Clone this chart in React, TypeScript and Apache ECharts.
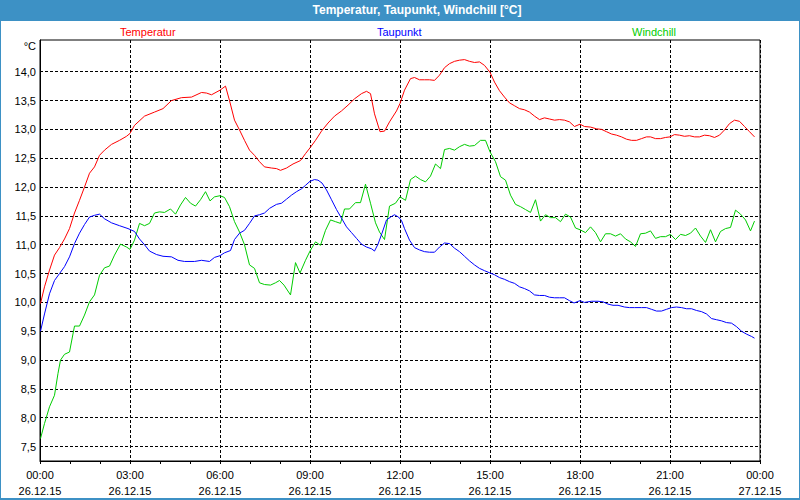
import React, { useEffect, useRef } from "react";
import * as echarts from "echarts";

const chartTitle = "Temperatur, Taupunkt, Windchill [°C]";
const seriesNames = ["Temperatur", "Taupunkt", "Windchill"];
const seriesColors = ["#ff0000", "#0000ff", "#00cc00"];
const unitLabel = "°C";
const yTickValues = [7.5, 8.0, 8.5, 9.0, 9.5, 10.0, 10.5, 11.0, 11.5, 12.0, 12.5, 13.0, 13.5, 14.0];
const startDate = "26.12.15";
const endDate = "27.12.15";

// [minutes since 26.12.15 00:00, °C]
const temperatur: [number, number][] = [
  [1, 9.98], [9, 10.27], [19, 10.56], [29, 10.82], [39, 10.95], [49, 11.1], [59, 11.28], [69, 11.55],
  [79, 11.77], [89, 12.0], [99, 12.24], [109, 12.35], [119, 12.55], [129, 12.64], [143, 12.74], [159, 12.81],
  [173, 12.88], [180, 12.93], [189, 13.07], [209, 13.23], [229, 13.3], [246, 13.36], [263, 13.5], [283, 13.55],
  [303, 13.56], [323, 13.64], [333, 13.63], [343, 13.6], [360, 13.68],
  [371, 13.75], [379, 13.5], [389, 13.16], [399, 12.99], [409, 12.81], [419, 12.64], [429, 12.55], [439, 12.44],
  [449, 12.35], [463, 12.33], [473, 12.32], [481, 12.29], [493, 12.33], [506, 12.4], [521, 12.46], [531, 12.58],
  [540, 12.68], [551, 12.81], [563, 12.97], [576, 13.11], [589, 13.23], [603, 13.32], [616, 13.42], [629, 13.53],
  [643, 13.62], [653, 13.66], [661, 13.62], [669, 13.27], [680, 12.96], [689, 12.97], [699, 13.13], [713, 13.32],
  [720, 13.45],
  [729, 13.68], [741, 13.88], [749, 13.9], [759, 13.86], [769, 13.86], [779, 13.86], [789, 13.85], [799, 13.94],
  [809, 14.07], [819, 14.14], [829, 14.18], [839, 14.2], [849, 14.21], [859, 14.18], [869, 14.16], [879, 14.17],
  [889, 14.11], [900, 13.99], [909, 13.82], [919, 13.67], [929, 13.56], [939, 13.46], [949, 13.41], [959, 13.36],
  [969, 13.34], [979, 13.3], [989, 13.23], [999, 13.17], [1009, 13.2], [1019, 13.18], [1029, 13.16], [1039, 13.17],
  [1049, 13.16], [1059, 13.13], [1069, 13.05], [1080, 13.09],
  [1089, 13.05], [1101, 13.04], [1113, 13.01], [1123, 13.0], [1133, 12.96], [1143, 12.92], [1153, 12.9], [1163, 12.87],
  [1173, 12.83], [1183, 12.81], [1193, 12.81], [1203, 12.84], [1213, 12.87], [1221, 12.87], [1231, 12.84], [1241, 12.84],
  [1251, 12.86], [1260, 12.87], [1269, 12.91], [1279, 12.9], [1289, 12.88], [1299, 12.89], [1309, 12.87], [1319, 12.87],
  [1329, 12.9], [1339, 12.89], [1349, 12.86], [1359, 12.9], [1369, 12.99], [1379, 13.1], [1389, 13.16], [1399, 13.14],
  [1409, 13.05], [1419, 12.96], [1429, 12.87],
];

const taupunkt: [number, number][] = [
  [1, 9.5], [9, 9.8], [19, 10.15], [29, 10.38], [39, 10.5], [49, 10.62], [59, 10.79], [69, 11.02],
  [79, 11.2], [89, 11.35], [99, 11.48], [109, 11.51], [119, 11.53], [129, 11.45], [143, 11.38], [159, 11.33],
  [176, 11.28], [189, 11.23], [199, 11.1], [209, 11.0], [219, 10.89], [233, 10.83], [246, 10.8], [263, 10.79],
  [276, 10.73], [289, 10.71], [309, 10.71], [323, 10.73], [339, 10.71], [349, 10.78], [360, 10.81],
  [369, 10.86], [381, 10.9], [389, 11.09], [399, 11.2], [409, 11.25], [419, 11.37], [429, 11.5], [439, 11.52],
  [449, 11.55], [459, 11.63], [473, 11.7], [483, 11.72], [493, 11.79], [503, 11.86], [513, 11.92], [523, 11.97],
  [531, 12.03], [540, 12.1], [549, 12.13], [556, 12.12], [564, 12.07], [573, 11.95], [583, 11.78], [593, 11.61],
  [603, 11.46], [613, 11.31], [623, 11.21], [633, 11.11], [643, 11.01], [653, 10.96], [663, 10.93], [669, 10.89],
  [676, 11.01], [684, 11.2], [693, 11.43], [703, 11.49], [709, 11.52], [717, 11.48], [723, 11.42],
  [729, 11.28], [739, 11.08], [749, 10.95], [759, 10.91], [769, 10.88], [779, 10.87], [789, 10.87], [799, 10.96],
  [809, 11.03], [819, 11.02], [829, 10.94], [839, 10.88], [849, 10.8], [859, 10.72], [869, 10.65], [879, 10.59],
  [889, 10.55], [900, 10.51], [909, 10.48], [919, 10.43], [929, 10.4], [939, 10.36], [949, 10.33], [959, 10.27],
  [969, 10.24], [979, 10.2], [989, 10.13], [999, 10.12], [1009, 10.12], [1019, 10.09], [1029, 10.08], [1039, 10.08],
  [1049, 10.08], [1059, 10.03], [1068, 9.99], [1080, 10.03],
  [1089, 10.0], [1103, 10.02], [1116, 10.02], [1126, 10.01], [1136, 9.97], [1146, 9.95], [1156, 9.95], [1169, 9.92],
  [1179, 9.91], [1189, 9.91], [1203, 9.91], [1213, 9.91], [1223, 9.88], [1233, 9.85], [1243, 9.85], [1253, 9.88],
  [1263, 9.91], [1273, 9.92], [1283, 9.91], [1293, 9.89], [1303, 9.89], [1313, 9.86], [1323, 9.84], [1333, 9.8],
  [1343, 9.72], [1353, 9.7], [1363, 9.68], [1373, 9.65], [1383, 9.64], [1393, 9.58], [1403, 9.5], [1413, 9.45],
  [1423, 9.41], [1429, 9.38],
];

const windchill: [number, number][] = [
  [1, 7.64], [9, 7.9], [19, 8.19], [29, 8.39], [36, 8.77], [41, 9.0], [49, 9.1], [59, 9.14],
  [69, 9.59], [79, 9.59], [89, 9.78], [99, 10.01], [109, 10.13], [119, 10.47], [129, 10.6], [139, 10.63],
  [149, 10.82], [161, 11.01], [173, 10.96], [180, 10.92], [189, 11.08], [199, 11.37], [209, 11.33], [219, 11.37],
  [229, 11.55], [239, 11.57], [249, 11.56], [261, 11.62], [271, 11.53], [281, 11.69], [291, 11.82], [301, 11.72],
  [311, 11.67], [321, 11.78], [331, 11.92], [340, 11.76], [349, 11.83], [360, 11.85],
  [369, 11.82], [379, 11.66], [389, 11.4], [399, 11.22], [409, 11.0], [419, 10.65], [429, 10.59], [439, 10.34],
  [449, 10.31], [461, 10.3], [471, 10.34], [479, 10.38], [488, 10.3], [501, 10.13], [511, 10.69], [520, 10.51],
  [531, 10.73], [540, 10.89], [551, 11.05], [561, 10.99], [571, 11.25], [581, 11.43], [591, 11.4], [601, 11.37],
  [609, 11.62], [619, 11.62], [631, 11.73], [641, 11.73], [651, 12.05], [661, 11.72], [671, 11.38], [679, 11.22],
  [689, 11.09], [699, 11.67], [711, 11.72], [720, 11.83],
  [731, 11.77], [741, 12.13], [751, 12.19], [761, 12.13], [771, 12.09], [781, 12.19], [791, 12.4], [801, 12.32],
  [809, 12.65], [819, 12.67], [829, 12.64], [839, 12.7], [849, 12.74], [859, 12.71], [869, 12.72], [881, 12.81],
  [891, 12.81], [900, 12.61], [911, 12.44], [921, 12.18], [931, 12.12], [941, 11.86], [951, 11.7], [961, 11.66],
  [971, 11.61], [981, 11.56], [991, 11.78], [1001, 11.41], [1011, 11.52], [1021, 11.47], [1031, 11.47], [1041, 11.4],
  [1051, 11.53], [1061, 11.48], [1071, 11.29], [1080, 11.26],
  [1091, 11.21], [1101, 11.31], [1111, 11.21], [1121, 11.05], [1131, 11.19], [1141, 11.19], [1151, 11.15], [1161, 11.19],
  [1171, 11.1], [1181, 11.05], [1191, 10.97], [1201, 11.19], [1211, 11.2], [1221, 11.24], [1231, 11.11], [1241, 11.14],
  [1251, 11.14], [1261, 11.18], [1271, 11.09], [1281, 11.18], [1291, 11.16], [1301, 11.2], [1311, 11.29], [1321, 11.15],
  [1331, 11.04], [1341, 11.26], [1351, 11.05], [1361, 11.23], [1371, 11.28], [1381, 11.3], [1391, 11.6], [1401, 11.53],
  [1411, 11.43], [1421, 11.24], [1429, 11.41],
];

const seriesData = [temperatur, taupunkt, windchill];

const FONT = "Tahoma, 'Liberation Sans', Arial, sans-serif";
const FRAME_BLUE = "#3d91c5";

function xLabel(v: number): string {
  const h = Math.floor(v / 60) % 24;
  const m = Math.round(v % 60);
  const hh = String(h).padStart(2, "0");
  const mm = String(m).padStart(2, "0");
  return `${hh}:${mm}\n${v >= 1440 ? endDate : startDate}`;
}

export default function App() {
  const ref = useRef<HTMLDivElement>(null);
  useEffect(() => {
    if (!ref.current) return;
    const chart = echarts.init(ref.current, null, { renderer: "svg" });
    const legendLefts = [115, 372, 627];
    chart.setOption({
      animation: false,
      backgroundColor: "#ffffff",
      textStyle: { fontFamily: FONT },
      title: {
        text: chartTitle,
        left: 417,
        top: 4,
        textAlign: "center",
        padding: 0,
        textStyle: { color: "#ffffff", fontSize: 12, fontWeight: "bold", fontFamily: FONT },
      },
      legend: seriesNames.map((n, i) => ({
        data: [n],
        left: legendLefts[i],
        top: 26,
        padding: 0,
        icon: "none",
        itemWidth: 0,
        itemHeight: 1,
        selectedMode: false,
        textStyle: { color: seriesColors[i], fontSize: 11, fontFamily: FONT },
      })),
      grid: {
        left: 40,
        right: 40,
        top: 40,
        bottom: 39,
        show: true,
        borderColor: "#000",
        borderWidth: 1,
        backgroundColor: "#ffffff",
      },
      xAxis: {
        type: "value",
        min: 0,
        max: 1440,
        interval: 180,
        axisLine: { show: true, lineStyle: { color: "#000", width: 1 } },
        axisTick: { show: true, length: 3, lineStyle: { color: "#000" } },
        minorTick: { show: true, splitNumber: 3, length: 3, lineStyle: { color: "#000" } },
        splitLine: { show: true, lineStyle: { color: "#000", type: [3, 2], width: 1 } },
        axisLabel: {
          formatter: xLabel,
          color: "#000",
          fontSize: 11,
          lineHeight: 16,
          margin: 6,
          fontFamily: FONT,
        },
      },
      yAxis: {
        type: "value",
        min: 7.25,
        max: 14.55,
        axisLine: { show: true, lineStyle: { color: "#000", width: 1 } },
        axisTick: { show: false, customValues: yTickValues },
        splitLine: { show: true, lineStyle: { color: "#000", type: [3, 2], width: 1 } },
        axisLabel: {
          customValues: yTickValues,
          formatter: (v: number) => v.toFixed(1).replace(".", ","),
          color: "#000",
          fontSize: 11,
          margin: 4,
          fontFamily: FONT,
        },
      },
      graphic: [
        { type: "rect", left: 0, top: 0, shape: { width: 800, height: 21 }, style: { fill: FRAME_BLUE }, z: -1 },
        { type: "rect", left: 0, top: 0, shape: { width: 1, height: 500 }, style: { fill: FRAME_BLUE } },
        { type: "rect", left: 799, top: 0, shape: { width: 1, height: 500 }, style: { fill: FRAME_BLUE } },
        { type: "rect", left: 0, top: 498, shape: { width: 800, height: 2 }, style: { fill: FRAME_BLUE } },
        {
          type: "text",
          x: 36,
          y: 46,
          style: { text: unitLabel, fill: "#000", font: `11px ${FONT}`, textAlign: "right", textVerticalAlign: "middle" },
        },
      ],
      series: seriesNames.map((n, i) => ({
        name: n,
        type: "line",
        data: seriesData[i],
        showSymbol: false,
        symbol: "none",
        smooth: false,
        lineStyle: { color: seriesColors[i], width: 1 },
        itemStyle: { color: seriesColors[i] },
        z: 3 - i,
      })),
    });
    return () => chart.dispose();
  }, []);
  return (
    <div
      ref={ref}
      style={{ position: "absolute", left: 0, top: 0, width: 800, height: 500 }}
    />
  );
}
